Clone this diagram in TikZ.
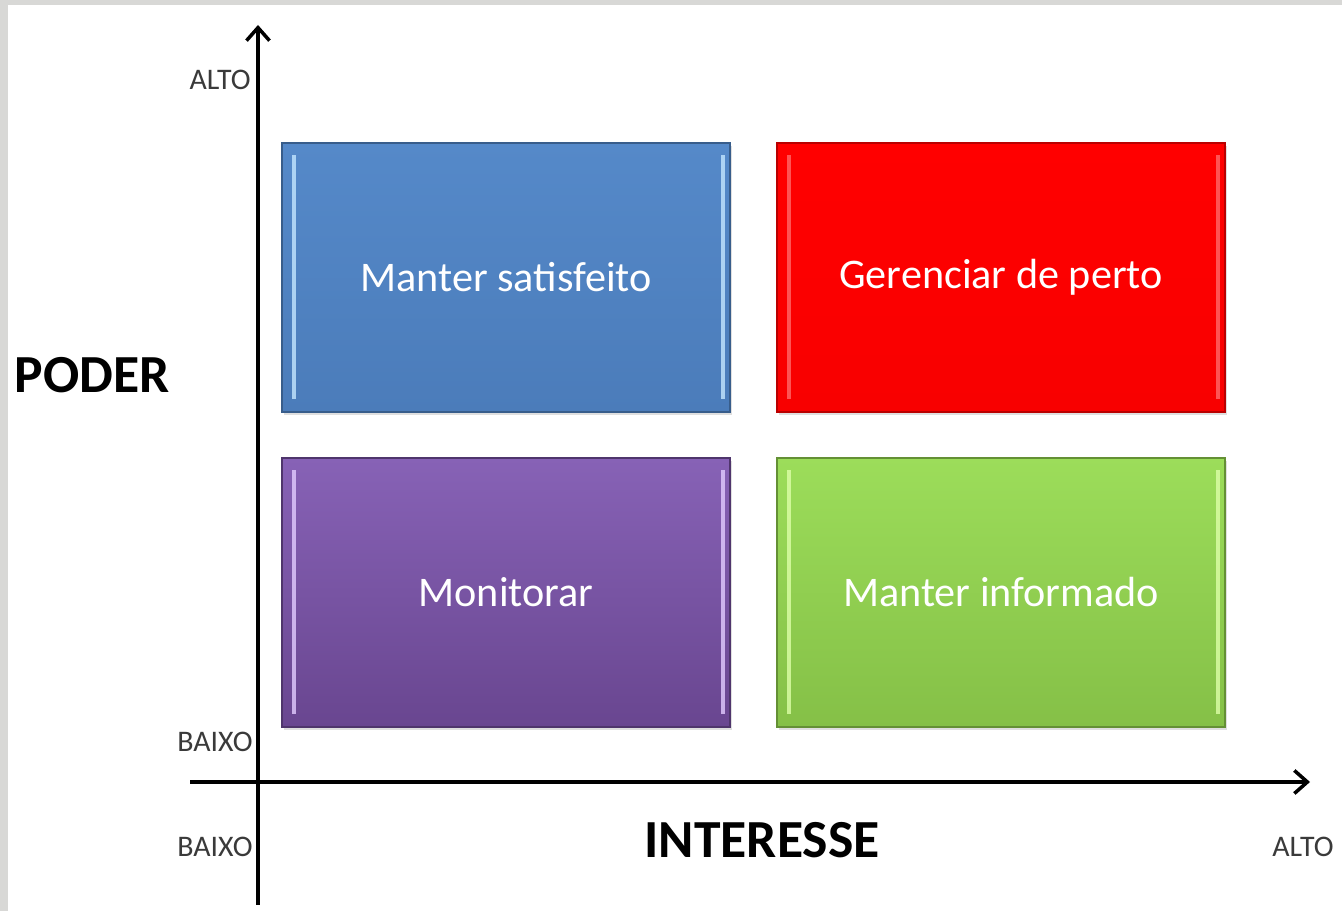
\documentclass[tikz,border=0pt]{standalone}
\usepackage{fontspec}
\setmainfont{Carlito}
\usetikzlibrary{arrows.meta,shadows}

\definecolor{azulA}{HTML}{5589C9}
\definecolor{azulB}{HTML}{4B7CBA}
\definecolor{azulL}{HTML}{C4E6FF}
\definecolor{vermA}{HTML}{FF0000}
\definecolor{vermB}{HTML}{F80000}
\definecolor{vermL}{HTML}{FF6A6A}
\definecolor{roxoA}{HTML}{8762B6}
\definecolor{roxoB}{HTML}{694690}
\definecolor{roxoL}{HTML}{E2CCFF}
\definecolor{verdeA}{HTML}{9CDD5A}
\definecolor{verdeB}{HTML}{85C047}
\definecolor{verdeL}{HTML}{DDFFA8}
\definecolor{moldura}{HTML}{D8D8D6}
\definecolor{rotulo}{HTML}{3A3A3A}

\tikzset{
  quadro/.style n args={3}{minimum width=8.96cm, minimum height=5.38cm, inner sep=0pt,
    top color=#1, bottom color=#2, draw=#2!75!black, line width=0.6pt,
    drop shadow={opacity=0.25, shadow xshift=0.04cm, shadow yshift=-0.06cm},
    text=white, font=\fontsize{24}{28}\selectfont,
    path picture={
      \fill[#3, opacity=0.8] ([xshift=0.2cm,yshift=-0.25cm]path picture bounding box.north west)
        rectangle ([xshift=0.28cm,yshift=0.25cm]path picture bounding box.south west);
      \fill[#3, opacity=0.8] ([xshift=-0.1cm,yshift=-0.25cm]path picture bounding box.north east)
        rectangle ([xshift=-0.18cm,yshift=0.25cm]path picture bounding box.south east);
    }},
  eixo/.style={line width=2pt, -{Straight Barb[length=2.6mm,width=4.6mm,line width=2pt]}},
  nivel/.style={text=rotulo, font=\fontsize{17}{20}\selectfont, inner sep=0pt},
  titulo/.style={font=\bfseries\fontsize{30.5}{36}\selectfont, inner sep=0pt}
}

\begin{document}
\begin{tikzpicture}
% Moldura
\fill[moldura] (0,0) rectangle (26.84,18.22);
\fill[white] (0.16,0) rectangle (26.84,18.12);
\useasboundingbox (0,0) rectangle (26.84,18.22);
% Quadrantes
\node[quadro={azulA}{azulB}{azulL}] (satisfeito) at (10.12,12.67) {Manter satisfeito};
\node[quadro={vermA}{vermB}{vermL}] (perto) at (20.02,12.67) {Gerenciar de perto};
\node[quadro={roxoA}{roxoB}{roxoL}] (monitorar) at (10.12,6.37) {Monitorar};
\node[quadro={verdeA}{verdeB}{verdeL}] (informado) at (20.02,6.37) {Manter informado};
% Eixos
\coordinate (origemV) at (5.16,0.12);
\coordinate (topoV) at (5.16,17.72);
\coordinate (origemH) at (3.8,2.58);
\coordinate (fimH) at (26.2,2.58);
\draw[eixo] (origemV) -- (topoV);
\draw[eixo] (origemH) -- (fimH);
% Rotulos
\node[nivel, anchor=east] (altoV) at (5.02,16.62) {ALTO};
\node[nivel, anchor=east] (baixoV) at (5.06,3.38) {BAIXO};
\node[nivel, anchor=east] (baixoH) at (5.06,1.28) {BAIXO};
\node[nivel] (altoH) at (26.06,1.28) {ALTO};
\node[titulo] (poder) at (1.84,10.72) {PODER};
\node[titulo] (interesse) at (15.24,1.42) {INTERESSE};
\end{tikzpicture}
\end{document}
